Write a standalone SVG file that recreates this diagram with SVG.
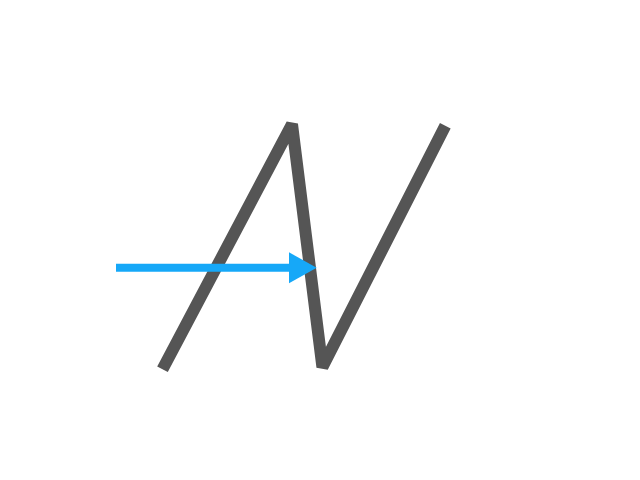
<svg xmlns="http://www.w3.org/2000/svg" width="640" height="480" viewBox="0 0 640 480">
  <style>
    .stroke-line { fill: none; stroke: #555555; stroke-width: 12; stroke-linejoin: bevel; stroke-linecap: butt; }
    .arrow-line { fill: none; stroke: #16a8f8; stroke-width: 8; }
    .arrow-head { fill: #16a8f8; }
  </style>
  <rect width="640" height="480" fill="#ffffff"/>
  <g id="zigzag">
    <polyline class="stroke-line" points="162.5,369.2 292,124.3 322.4,367 445.3,125.8"/>
  </g>
  <g id="connectors">
    <line class="arrow-line" x1="116" y1="267.8" x2="290" y2="267.8"/>
    <polygon class="arrow-head" points="289,252.3 316.7,267.8 289,283.3"/>
  </g>
</svg>
